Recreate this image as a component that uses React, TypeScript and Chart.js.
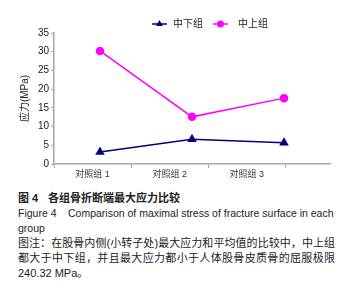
import React, { useEffect, useRef } from 'react';
import { Chart, registerables } from 'chart.js';

Chart.register(...registerables);

// ---- data ----
const categories = ['对照组 1', '对照组 2', '对照组 3'];
const seriesNames = ['中下组', '中上组'];
const lowerGroup = [3.2, 6.6, 5.7];
const upperGroup = [30.2, 12.6, 17.6];
const yMin = 0;
const yMax = 35;
const yStep = 5;
const yTitle = '应力(MPa)';
// label-axis tick layout (category label slots and tick marks)
const labelSlots = [0.5, 1.5, 2.5];
const markSlots = [0, 1, 2, 3];
const labelAxisSpan = 3.58;

const FONT = '"Liberation Sans", "Noto Sans CJK SC", sans-serif';
const AXIS_GRAY = '#a6a6a6';

const legendPlugin = {
  id: 'lineMarkerLegend',
  afterDraw(chart: any) {
    const ctx = chart.ctx;
    const slots = [
      { x: 152, textX: 173 },
      { x: 213, textX: 238 },
    ];
    const y = 24;
    chart.data.datasets.forEach((ds: any, i: number) => {
      const s = slots[i];
      if (!s) return;
      ctx.save();
      ctx.strokeStyle = ds.borderColor;
      ctx.lineWidth = 1.5;
      ctx.beginPath();
      ctx.moveTo(s.x, y);
      ctx.lineTo(s.x + 15, y);
      ctx.stroke();
      const cx = s.x + 7.5;
      ctx.fillStyle = ds.pointBackgroundColor;
      ctx.beginPath();
      if (ds.pointStyle === 'triangle') {
        const r = ds.pointRadius;
        ctx.moveTo(cx, y - r);
        ctx.lineTo(cx + r * 0.866, y + r * 0.5);
        ctx.lineTo(cx - r * 0.866, y + r * 0.5);
        ctx.closePath();
      } else {
        ctx.arc(cx, y, ds.pointRadius, 0, Math.PI * 2);
      }
      ctx.fill();
      ctx.fillStyle = '#222';
      ctx.font = `10px ${FONT}`;
      ctx.textBaseline = 'middle';
      ctx.textAlign = 'left';
      ctx.fillText(ds.label, s.textX, y + 0.5);
      ctx.restore();
    });
  },
};

function ChartBox() {
  const ref = useRef<HTMLCanvasElement | null>(null);
  useEffect(() => {
    if (!ref.current) return;
    const chart = new Chart(ref.current, {
      type: 'line',
      data: {
        labels: categories,
        datasets: [
          {
            label: seriesNames[0],
            data: lowerGroup,
            borderColor: '#000080',
            backgroundColor: '#000080',
            pointBackgroundColor: '#000080',
            pointBorderColor: '#000080',
            pointStyle: 'triangle',
            pointRadius: 4,
            borderWidth: 1.5,
            tension: 0,
            xAxisID: 'x',
            yAxisID: 'y',
          },
          {
            label: seriesNames[1],
            data: upperGroup,
            borderColor: '#ff00ff',
            backgroundColor: '#ff00ff',
            pointBackgroundColor: '#ff00ff',
            pointBorderColor: '#ff00ff',
            pointStyle: 'circle',
            pointRadius: 3.5,
            borderWidth: 1.5,
            tension: 0,
            xAxisID: 'x',
            yAxisID: 'y',
          },
        ],
      },
      options: {
        responsive: false,
        animation: false,
        devicePixelRatio: 1,
        layout: { padding: { left: 0, right: 30, top: 33, bottom: 0 } },
        plugins: {
          legend: { display: false },
          tooltip: { enabled: false },
        },
        scales: {
          x: {
            type: 'category',
            display: false,
            offset: true,
          },
          x2: {
            type: 'linear',
            position: 'bottom',
            min: 0,
            max: labelAxisSpan,
            bounds: 'data',
            afterBuildTicks: (scale: any) => {
              const vals = [...markSlots, ...labelSlots].sort((a, b) => a - b);
              scale.ticks = vals.map((v) => ({ value: v }));
            },
            afterFit: (scale: any) => {
              scale.height = 21;
            },
            ticks: {
              autoSkip: false,
              maxRotation: 0,
              minRotation: 0,
              padding: 1,
              color: '#333',
              font: { family: FONT, size: 9 },
              callback: (value: any) => {
                const idx = labelSlots.indexOf(Number(value));
                return idx >= 0 ? categories[idx] : '';
              },
            },
            grid: {
              drawOnChartArea: false,
              drawTicks: true,
              tickLength: 4,
              color: (ctx: any) =>
                ctx.tick && markSlots.includes(ctx.tick.value) ? AXIS_GRAY : 'rgba(0,0,0,0)',
            },
            border: { display: true, color: AXIS_GRAY, width: 1.5 },
          },
          y: {
            type: 'linear',
            min: yMin,
            max: yMax,
            afterFit: (scale: any) => {
              scale.width = 54;
            },
            ticks: {
              stepSize: yStep,
              padding: 2,
              color: '#222',
              font: { family: FONT, size: 10 },
            },
            grid: {
              drawOnChartArea: false,
              drawTicks: true,
              tickLength: 3,
              color: AXIS_GRAY,
            },
            border: { display: true, color: AXIS_GRAY, width: 1.5 },
            title: {
              display: true,
              text: yTitle,
              color: '#222',
              font: { family: FONT, size: 10 },
              padding: { top: 19, bottom: 0 },
            },
          },
        },
      },
      plugins: [legendPlugin],
    } as any);
    return () => chart.destroy();
  }, []);
  return <canvas ref={ref} width={360} height={185} style={{ display: 'block', width: 360, height: 185 }} />;
}

export default function App() {
  const lineBase: React.CSSProperties = {
    height: '15.2px',
    lineHeight: '15.2px',
    whiteSpace: 'nowrap',
  };
  const justified: React.CSSProperties = {
    ...lineBase,
    width: 317,
    textAlign: 'justify',
    textAlignLast: 'justify' as any,
    fontSize: 11,
  };
  return (
    <div style={{ width: 360, height: 294, background: '#fff', fontFamily: FONT, color: '#222' }}>
      <style>{`body{margin:0;background:#fff}`}</style>
      <ChartBox />
      <div style={{ paddingLeft: 18, marginTop: 5.5 }}>
        <div style={{ ...lineBase, fontSize: 11, fontWeight: 'bold' }}>
          <span style={{ display: 'inline-block', width: 30 }}>图 4</span>各组骨折断端最大应力比较
        </div>
        <div style={{ ...lineBase, fontSize: 10.5 }}>
          <span style={{ display: 'inline-block', width: 50 }}>Figure 4</span>Comparison of maximal stress of fracture surface in each
        </div>
        <div style={{ ...lineBase, fontSize: 10.5 }}>group</div>
        <div style={justified}>图注：在股骨内侧(小转子处)最大应力和平均值的比较中，中上组</div>
        <div style={justified}>都大于中下组，并且最大应力都小于人体股骨皮质骨的屈服极限</div>
        <div style={{ ...lineBase, fontSize: 11 }}>240.32 MPa。</div>
      </div>
    </div>
  );
}
